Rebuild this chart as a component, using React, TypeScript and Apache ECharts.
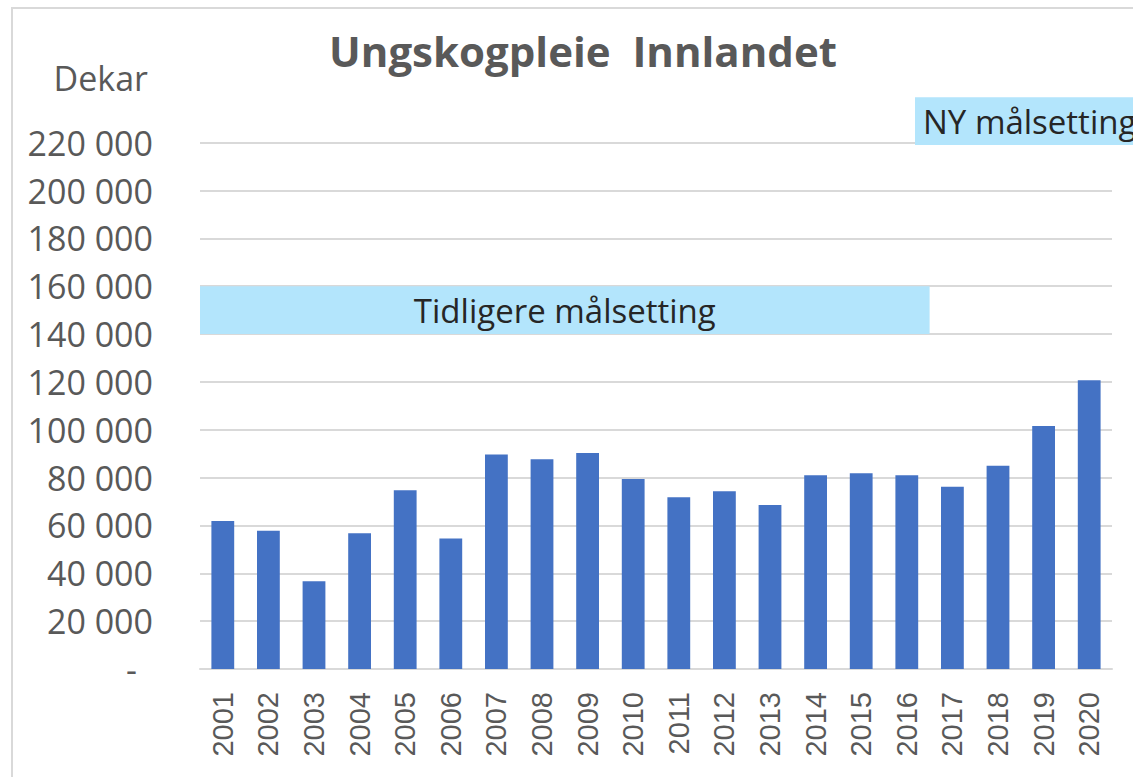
import React, { useEffect, useRef } from "react";
import * as echarts from "echarts";

const years = ["2001", "2002", "2003", "2004", "2005", "2006", "2007", "2008", "2009", "2010", "2011", "2012", "2013", "2014", "2015", "2016", "2017", "2018", "2019", "2020"];
const values = [61900, 57800, 36700, 56700, 74700, 54600, 89700, 87700, 90300, 79400, 71800, 74300, 68600, 81000, 81800, 81000, 76200, 85000, 101600, 120700];
const yMax = 220000;
const yInterval = 20000;
const bandNames = ["Tidligere målsetting", "NY målsetting"];
// [start category position, end category position, low value, high value]
const bandRanges = [
  [0, 16, 140000, 160000],
  [15.68, 21, 219000, 239000],
];
const title = "Ungskogpleie  Innlandet";
const unitLabel = "Dekar";

const fmt = (v: number) => {
  if (v === 0) return "{d|-}";
  return String(v).replace(/\B(?=(\d{3})+(?!\d))/g, " ");
};

export default function App() {
  const ref = useRef<HTMLDivElement>(null);
  useEffect(() => {
    const chart = echarts.init(ref.current!, null, { renderer: "svg" });
    chart.setOption({
      animation: false,
      backgroundColor: "#ffffff",
      title: {
        text: title,
        left: 578,
        top: 24,
        textAlign: "center",
        textStyle: { fontFamily: "Open Sans", fontWeight: "bold", fontSize: 42, color: "#595959" },
      },
      graphic: [
        {
          type: "rect",
          shape: { x: 12, y: 8, width: 1300, height: 1000 },
          style: { fill: "none", stroke: "#d9d9d9", lineWidth: 2 },
          silent: true,
        },
        {
          type: "text",
          x: 148,
          y: 78,
          style: { text: unitLabel, fontFamily: "Open Sans", fontSize: 34, fill: "#595959", align: "right", verticalAlign: "middle" },
        },
      ],
      grid: { left: 200, right: 21, top: 142.7, bottom: 108, containLabel: false },
      xAxis: [
        {
          type: "category",
          data: years,
          axisTick: { show: false },
          axisLine: { lineStyle: { color: "#d9d9d9", width: 2 } },
          axisLabel: {
            rotate: 90,
            margin: 23,
            color: "#595959",
            fontSize: 29,
            fontFamily: "'Liberation Sans Narrow', 'Liberation Sans', Arial",
          },
        },
        { type: "value", min: 0, max: 20, show: false },
      ],
      yAxis: {
        type: "value",
        min: 0,
        max: yMax,
        interval: yInterval,
        axisLine: { show: false },
        axisTick: { show: false },
        splitLine: { lineStyle: { color: "#d9d9d9", width: 2 } },
        axisLabel: {
          margin: 47,
          formatter: fmt,
          color: "#595959",
          fontSize: 34,
          fontFamily: "Open Sans",
          rich: { d: { padding: [0, 16, 0, 0], fontSize: 34, fontFamily: "Open Sans", color: "#595959" } },
        },
      },
      series: [
        {
          type: "bar",
          data: values,
          barWidth: "50%",
          itemStyle: { color: "#4472C4" },
        },
        {
          type: "custom",
          xAxisIndex: 1,
          yAxisIndex: 0,
          clip: false,
          silent: true,
          z: 3,
          encode: { x: 0, y: 2 },
          data: bandRanges,
          renderItem: (params: any, api: any) => {
            const x0 = api.value(0), x1 = api.value(1), y0 = api.value(2), y1 = api.value(3);
            const p0 = api.coord([x0, y1]);
            const p1 = api.coord([x1, y0]);
            const center = params.dataIndex === 0;
            return {
              type: "group",
              children: [
                {
                  type: "rect",
                  shape: { x: p0[0], y: p0[1], width: p1[0] - p0[0], height: p1[1] - p0[1] },
                  style: { fill: "#B3E5FC" },
                },
                {
                  type: "text",
                  x: center ? (p0[0] + p1[0]) / 2 : p0[0] + 8,
                  y: (p0[1] + p1[1]) / 2,
                  style: {
                    text: bandNames[params.dataIndex],
                    fill: "#262626",
                    fontSize: 33,
                    fontFamily: "Open Sans",
                    align: center ? "center" : "left",
                    verticalAlign: "middle",
                  },
                },
              ],
            };
          },
        },
      ],
    });
    return () => chart.dispose();
  }, []);
  return <div ref={ref} style={{ position: "absolute", left: 0, top: 0, width: 1133, height: 777 }} />;
}
